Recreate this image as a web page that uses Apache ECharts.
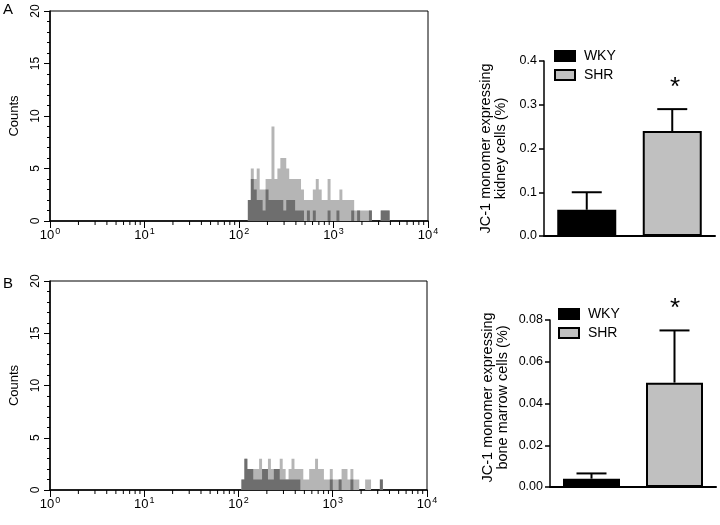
<!DOCTYPE html>
<html><head><meta charset="utf-8">
<script src="https://cdn.jsdelivr.net/npm/echarts@6/dist/echarts.min.js"></script>
<style>html,body{margin:0;padding:0;background:#fff}#c{width:720px;height:525px}</style>
</head><body><div id="c"></div>
<script>
// ---- Data ----
// Flow-cytometry histograms: log-scale channels, 32 channels per decade
const channelsPerDecade = 32;
const histAFirstChannel = 67;
const histA_SHR = [2,5,4,5,3,3,4,4,9,4, 5,6,6,5,4,4,4,4,3,2, 2,2,3,4,3,2,2,4,2,2, 2,3,2,2,2,2,1,1,1,1, 1,1,0,0,0,1,1,1,0];
const histA_WKY = [2,4,3,2,2,1,3,2,2,2, 2,2,1,2,2,2,1,1,1,0, 1,0,1,0,0,0,0,1,0,0, 1,0,0,0,0,1,0,1,0,0, 0,1,0,0,0,1,1,1,0];
const histBFirstChannel = 65;
const histB_SHR = [1,3,2,2,2,2,3,2,2,3, 2,2,2,3,2,1,2,3,2,2, 2,1,1,2,2,3,2,2,1,1, 2,1,1,1,2,2,1,2,1,1, 0,0,1,1,0,0,0,1,0];
const histB_WKY = [1,3,2,2,1,1,1,2,2,1, 1,2,2,1,1,1,1,1,1,1, 0,0,0,0,0,0,0,0,0,0, 1,0,0,1,0,0,0,1,0,0, 0,0,0,0,0,0,0,1,0];
const histYTicks = [0, 5, 10, 15, 20];
const logMinorTicks = [2,3,4,5,6,7,8,9, 20,30,40,50,60,70,80,90, 200,300,400,500,600,700,800,900, 2000,3000,4000,5000,6000,7000,8000,9000];

// Bar charts
const barCategories = ['WKY', 'SHR'];
const kidneyMean = [0.06, 0.24];
const kidneySEM = [0.04, 0.05];
const marrowMean = [0.004, 0.05];
const marrowSEM = [0.0025, 0.025];

// ---- Chart ----
const FONT = 'Liberation Sans, Arial, sans-serif';
const LIGHT = '#b5b5b5', DARK = '#6e6e6e', SHRBAR = '#c0c0c0';

function stepData(first, counts) {
  const pts = counts.map((c, i) => [Math.pow(10, (first + i) / channelsPerDecade), c]);
  pts.push([Math.pow(10, (first + counts.length) / channelsPerDecade), 0]);
  return pts;
}

function histX(gi) {
  return {
    gridIndex: gi, type: 'log', logBase: 10, min: 1, max: 10000, splitNumber: 4,
    axisLine: { show: true, lineStyle: { color: '#000', width: 1.5 } },
    axisTick: { show: true, length: 7, lineStyle: { color: '#000' } },
    splitLine: { show: false },
    axisLabel: {
      margin: 6, color: '#000',
      formatter: v => '{b|10}{e|' + Math.round(Math.log10(v)) + '}',
      rich: {
        b: { fontSize: 13, fontFamily: FONT, color: '#000' },
        e: { fontSize: 9, fontFamily: FONT, color: '#000', padding: [0, 0, 8, 1] }
      }
    }
  };
}
function histY(gi) {
  return {
    gridIndex: gi, type: 'value', min: histYTicks[0], max: histYTicks[histYTicks.length - 1], interval: 5,
    axisLine: { show: true, lineStyle: { color: '#000', width: 1.5 } },
    axisTick: { show: true, length: 6, lineStyle: { color: '#000' } },
    minorTick: { show: true, splitNumber: 5, length: 3, lineStyle: { color: '#000' } },
    splitLine: { show: false },
    axisLabel: { rotate: 90, margin: 8, fontSize: 12, fontFamily: FONT, color: '#000' },
    name: 'Counts', nameLocation: 'middle', nameRotate: 90, nameGap: 29,
    nameTextStyle: { fontSize: 13, fontFamily: FONT, color: '#000' }
  };
}
function histSeries(gi, data, color, z) {
  return {
    type: 'line', xAxisIndex: gi, yAxisIndex: gi, step: 'end', symbol: 'none', silent: true,
    data: data, lineStyle: { width: 0 }, areaStyle: { color: color, opacity: 1 }, z: z
  };
}
function minorTickSeries(gi) {
  return {
    type: 'custom', xAxisIndex: gi, yAxisIndex: gi, silent: true, clip: false, z: 5,
    data: logMinorTicks.map(v => [v, 0]),
    encode: { x: 0, y: 1 },
    renderItem: (params, api) => {
      const p = api.coord([api.value(0), 0]);
      return { type: 'line', shape: { x1: p[0], y1: p[1], x2: p[0], y2: p[1] + 4 }, style: { stroke: '#000', lineWidth: 1 } };
    }
  };
}
function barX(gi) {
  return {
    gridIndex: gi, type: 'category', data: barCategories,
    axisLine: { show: true, lineStyle: { color: '#000', width: 2 } },
    axisTick: { show: false }, axisLabel: { show: false }, splitLine: { show: false }
  };
}
function barY(gi, max, interval, digits, name, gap, pad) {
  return {
    gridIndex: gi, type: 'value', min: 0, max: max, interval: interval,
    axisLine: { show: true, lineStyle: { color: '#000', width: 1.5 } },
    axisTick: { show: true, length: 5, lineStyle: { color: '#000', width: 1.5 } },
    splitLine: { show: false },
    axisLabel: { formatter: v => v.toFixed(digits), fontSize: 12.5, fontFamily: FONT, color: '#000', margin: 7 },
    name: name, nameLocation: 'middle', nameRotate: 90, nameGap: gap,
    nameTextStyle: { fontSize: 14.5, lineHeight: 15, fontFamily: FONT, color: '#000', padding: pad }
  };
}
function barSeries(gi, means, width) {
  return [
    { name: barCategories[0], type: 'bar', xAxisIndex: gi, yAxisIndex: gi, barWidth: width, barGap: '-100%',
      data: [means[0], '-'], itemStyle: { color: '#000', borderColor: '#000', borderWidth: 2 } },
    { name: barCategories[1], type: 'bar', xAxisIndex: gi, yAxisIndex: gi, barWidth: width, barGap: '-100%',
      data: ['-', means[1]], itemStyle: { color: SHRBAR, borderColor: '#000', borderWidth: 2 } }
  ];
}
function errSeries(gi, means, sems) {
  return {
    type: 'custom', xAxisIndex: gi, yAxisIndex: gi, silent: true, z: 10,
    data: means.map((m, i) => [i, m, m + sems[i]]),
    encode: { x: 0, y: [1, 2] },
    renderItem: (params, api) => {
      const base = api.coord([api.value(0), api.value(1)]);
      const top = api.coord([api.value(0), api.value(2)]);
      return { type: 'group', children: [
        { type: 'line', shape: { x1: top[0], y1: base[1], x2: top[0], y2: top[1] }, style: { stroke: '#000', lineWidth: 2 } },
        { type: 'line', shape: { x1: top[0] - 15, y1: top[1], x2: top[0] + 15, y2: top[1] }, style: { stroke: '#000', lineWidth: 2 } }
      ] };
    }
  };
}
function legend(left, top) {
  return {
    data: barCategories, orient: 'vertical', left: left, top: top, icon: 'rect',
    itemWidth: 20, itemHeight: 10, itemGap: 5, selectedMode: false,
    formatter: n => ' ' + n,
    textStyle: { fontSize: 14, fontFamily: FONT, color: '#000' }
  };
}

const chart = echarts.init(document.getElementById('c'), null, { renderer: 'canvas' });
chart.setOption({
  animation: false,
  backgroundColor: '#fff',
  textStyle: { fontFamily: FONT },
  grid: [
    { left: 42, top: 11, width: 386, height: 210, show: true, borderColor: '#000', borderWidth: 1 },
    { left: 43, top: 281, width: 384, height: 209, show: true, borderColor: '#000', borderWidth: 1 },
    { left: 544, top: 61, width: 171, height: 175 },
    { left: 550, top: 320, width: 166, height: 167 }
  ],
  xAxis: [histX(0), histX(1), barX(2), barX(3)],
  yAxis: [
    histY(0), histY(1),
    barY(2, 0.4, 0.1, 1, 'JC-1 monomer expressing\nkidney cells (%)', 36, 0),
    barY(3, 0.08, 0.02, 2, 'JC-1 monomer expressing\nbone marrow cells (%)', 40, [0, 0, 0, 12])
  ],
  legend: [legend(549, 44), legend(553, 302)],
  series: [
    histSeries(0, stepData(histAFirstChannel, histA_SHR), LIGHT, 2),
    histSeries(0, stepData(histAFirstChannel, histA_WKY), DARK, 3),
    minorTickSeries(0),
    histSeries(1, stepData(histBFirstChannel, histB_SHR), LIGHT, 2),
    histSeries(1, stepData(histBFirstChannel, histB_WKY), DARK, 3),
    minorTickSeries(1),
    ...barSeries(2, kidneyMean, 59),
    errSeries(2, kidneyMean, kidneySEM),
    ...barSeries(3, marrowMean, 57),
    errSeries(3, marrowMean, marrowSEM)
  ],
  graphic: [
    { type: 'text', left: 3, top: 2, style: { text: 'A', fontSize: 15, fontFamily: FONT, fill: '#000' } },
    { type: 'text', left: 3, top: 276, style: { text: 'B', fontSize: 15, fontFamily: FONT, fill: '#000' } },
    { type: 'text', x: 675, y: 88, style: { text: '*', fontSize: 26, fontFamily: FONT, fill: '#000', align: 'center', verticalAlign: 'middle' } },
    { type: 'text', x: 675, y: 309, style: { text: '*', fontSize: 26, fontFamily: FONT, fill: '#000', align: 'center', verticalAlign: 'middle' } }
  ]
});
</script>
</body></html>
